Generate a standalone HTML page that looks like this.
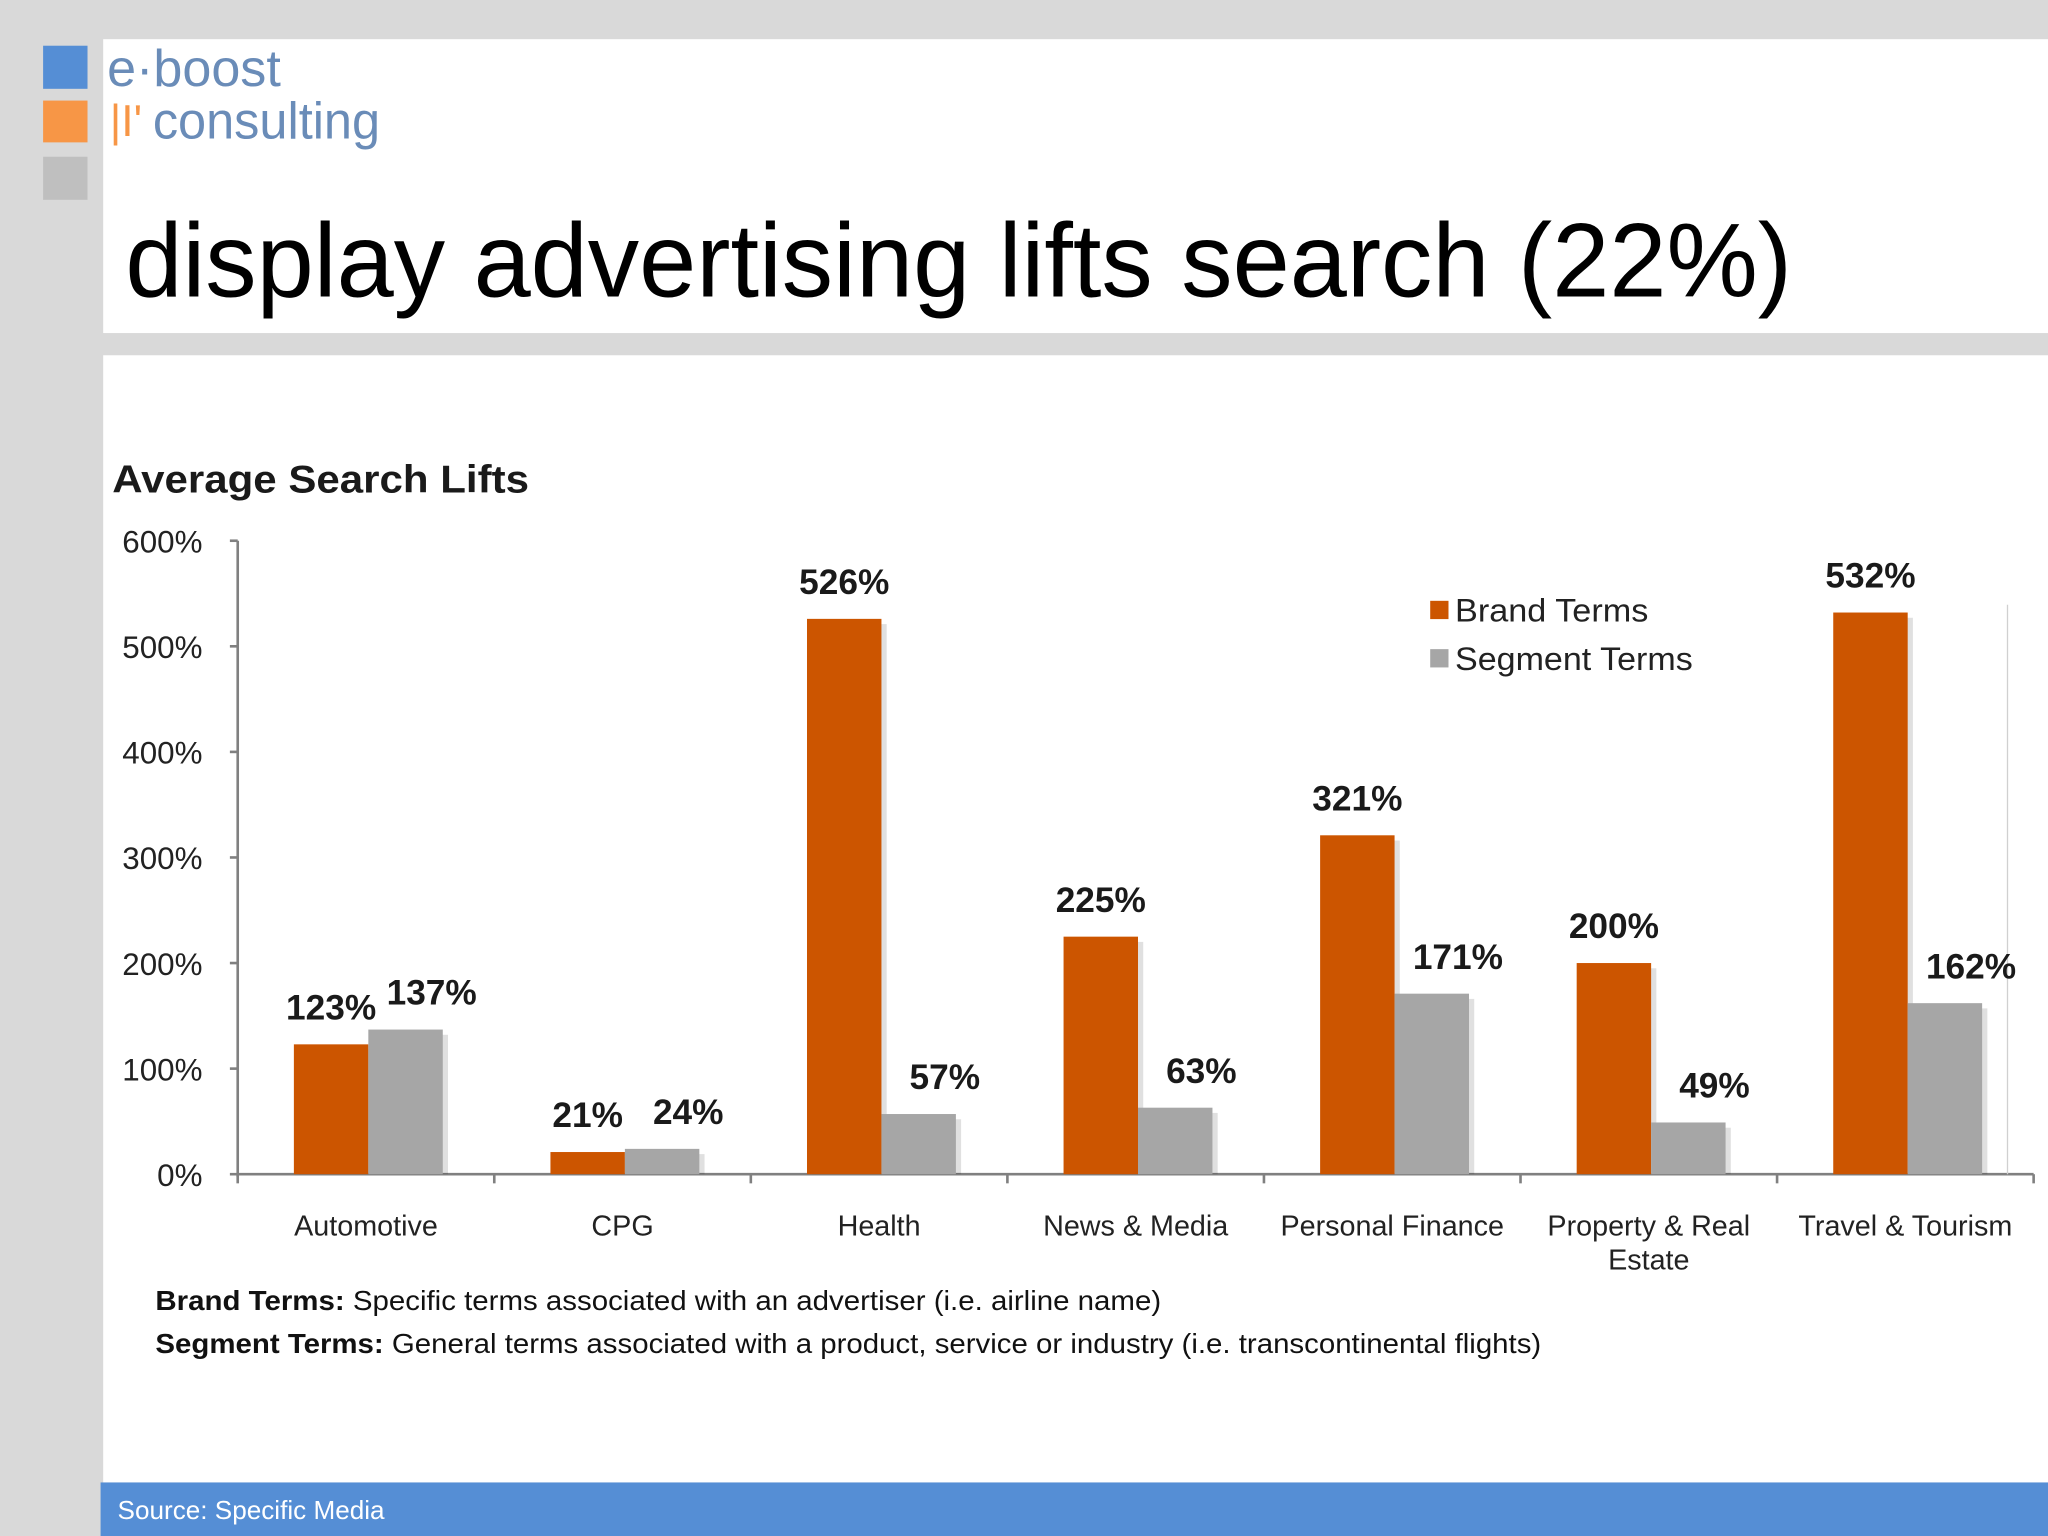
<!DOCTYPE html>
<html><head><meta charset="utf-8"><style>
html,body{margin:0;padding:0;background:#d9d9d9;}
#wrap{width:2048px;height:1536px;overflow:hidden;}
svg{display:block;}
text{font-family:"Liberation Sans",sans-serif;}
</style></head><body>
<div id="wrap">
<svg id="s" width="2048" height="1536" viewBox="0 0 1568 1176">
<rect x="0" y="0" width="1568" height="1176" fill="#d9d9d9"/>
<rect x="79" y="30" width="1489" height="225" fill="#ffffff"/>
<rect x="79" y="272" width="1489" height="863" fill="#ffffff"/>
<rect x="33" y="35" width="34" height="33" fill="#558ed5"/>
<rect x="33" y="77" width="34" height="32" fill="#f79646"/>
<rect x="33" y="120" width="34" height="33" fill="#bfbfbf"/>
<text x="82" y="66" font-size="40" fill="#6a8cb8" textLength="133" lengthAdjust="spacingAndGlyphs">e·boost</text>
<text x="84" y="104" font-size="34" fill="#f79646">|I'</text>
<text x="117" y="106" font-size="40" fill="#6a8cb8" textLength="174" lengthAdjust="spacingAndGlyphs">consulting</text>
<text x="96" y="227" font-size="80" fill="#000" textLength="1276" lengthAdjust="spacingAndGlyphs">display advertising lifts search (22%)</text>
<text x="86" y="377" font-size="30" font-weight="bold" fill="#1a1a1a" textLength="319" lengthAdjust="spacingAndGlyphs">Average Search Lifts</text>
<g id="chart"></g>
<rect x="1095" y="460" width="14" height="14" fill="#cc5500"/>
<text x="1114" y="476" font-size="25" fill="#222" textLength="148" lengthAdjust="spacingAndGlyphs">Brand Terms</text>
<rect x="1095" y="497" width="14" height="14" fill="#a6a6a6"/>
<text x="1114" y="513" font-size="25" fill="#222" textLength="182" lengthAdjust="spacingAndGlyphs">Segment Terms</text>
<text x="119" y="1003" font-size="21" fill="#111" textLength="770" lengthAdjust="spacingAndGlyphs"><tspan font-weight="bold">Brand Terms:</tspan> Specific terms associated with an advertiser (i.e. airline name)</text>
<text x="119" y="1036" font-size="21" fill="#111" textLength="1061" lengthAdjust="spacingAndGlyphs"><tspan font-weight="bold">Segment Terms:</tspan> General terms associated with a product, service or industry (i.e. transcontinental flights)</text>
<rect x="77" y="1135" width="1491" height="41" fill="#558ed5"/>
<text x="90" y="1163" font-size="20" fill="#ffffff">Source: Specific Media</text>
</svg>
</div>
<script>
const categories=["Automotive","CPG","Health","News & Media","Personal Finance","Property & Real|Estate","Travel & Tourism"];
const brandValues=[123,21,526,225,321,200,532];
const segmentValues=[137,24,57,63,171,49,162];
const yTicks=[0,100,200,300,400,500,600];
const NS="http://www.w3.org/2000/svg";
const g=document.getElementById('chart');
const x0=182,x1=1557,yBase=899,yTop=414,yMax=600;
const bandW=(x1-x0)/categories.length;
function yScale(v){return yBase-(v/yMax)*(yBase-yTop);}
function xBand(i){return x0+i*bandW;}
function mk(tag,attrs){const e=document.createElementNS(NS,tag);for(const k in attrs)e.setAttribute(k,attrs[k]);g.appendChild(e);return e;}
let e=mk('line',{x1:x0,y1:yTop,x2:x0,y2:yBase+2,stroke:'#808080','stroke-width':2});


e=mk('line',{x1:x0,y1:yBase,x2:x1,y2:yBase,stroke:'#808080','stroke-width':2});


e=mk('line',{x1:1537,y1:463,x2:1537,y2:yBase,stroke:'#d0d0d0','stroke-width':1});


yTicks.forEach(t=>{
 const y=yScale(t);
 let l=mk('line',{x1:x0-6,y1:y,x2:x0,y2:y,stroke:'#808080','stroke-width':2});
 
 
 let tx=mk('text',{x:155,y:y+9,'font-size':24,'text-anchor':'end',fill:'#222'});
 tx.textContent=t+'%';
 
 
});
for(let i=0;i<=categories.length;i++){
 let l=mk('line',{x1:xBand(i),y1:yBase,x2:xBand(i),y2:yBase+7,stroke:'#808080','stroke-width':2});
 
 
}
const bw=57;
categories.forEach((c,i)=>{
 const bx=xBand(i)+43, sx=bx+bw;
 [[bx,brandValues[i],'#cc5500','bar-brand'],[sx,segmentValues[i],'#a6a6a6','bar-segment']].forEach(([x,v,col,nm],k)=>{
  const y=yScale(v);
  let sh=mk('rect',{x:x+4,y:y+4,width:bw,height:yBase-y-4,fill:'#000',opacity:0.12});
  
  
  let r=mk('rect',{x:x,y:y,width:bw,height:yBase-y,fill:col});
  
  
  let t=mk('text',{x:x+bw/2+(k?20:0),y:y-19,'font-size':27,'font-weight':'bold','text-anchor':'middle',fill:'#1a1a1a'});
  t.textContent=v+'%';
  
  
 });
 const lines=c.split('|');
 lines.forEach((ln,j)=>{
  let t=mk('text',{x:xBand(i)+bandW/2,y:946+j*26,'font-size':22,'text-anchor':'middle',fill:'#222'});
  t.textContent=ln;
  
  
 });
});
</script>
</body></html>
